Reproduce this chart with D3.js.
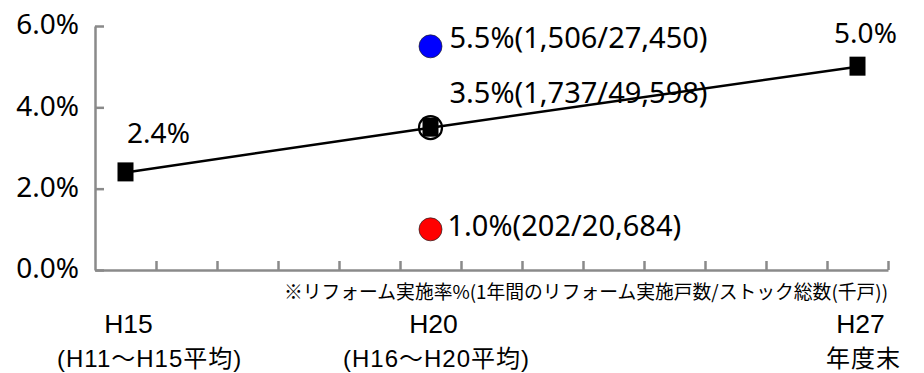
<!DOCTYPE html>
<html>
<head>
<meta charset="utf-8">
<script src="https://cdn.jsdelivr.net/npm/d3@7"></script>
<style>
  html, body { margin: 0; padding: 0; background: #fff; }
  svg { display: block; font-family: "Noto Sans", "Noto Sans CJK JP", sans-serif; }
</style>
</head>
<body>
<svg id="chart" width="924" height="373"></svg>
<script>
// Fiscal-year categories along the x axis
const categories = ["H15", "H16", "H17", "H18", "H19", "H20", "H21", "H22", "H23", "H24", "H25", "H26", "H27"];
// Reform rate trend (%), only the observed / target years carry a value
const trendRates = [2.4, null, null, null, null, 3.5, null, null, null, null, null, null, 5.0];
// Breakdown for H20: rate (%), reformed dwellings and total stock (thousand units)
const breakdownRates = [5.5, 3.5, 1.0];
const breakdownReformed = [1506, 1737, 202];
const breakdownStock = [27450, 49598, 20684];
const breakdownCategory = "H20";
// Category labels (two lines) shown under the axis
const labelCategories = ["H15", "H20", "H27"];
const labelSecondLines = ["(H11～H15平均)", "(H16～H20平均)", "年度末"];
// Y axis tick values (%)
const yTicks = [0, 2, 4, 6];
const noteText = "※リフォーム実施率%(1年間のリフォーム実施戸数/ストック総数(千戸))";

const breakdownFills = ["#0000ff", "#ffffff", "#ff0000"];

const svg = d3.select("#chart");
const plotLeft = 95, plotRight = 888, plotTop = 26, plotBottom = 270;

const x = d3.scaleBand().domain(categories).range([plotLeft, plotRight]).padding(0);
const y = d3.scaleLinear().domain([0, 6]).range([plotBottom, plotTop]);
const cx = c => x(c) + x.bandwidth() / 2;

const axisColor = "#8a8a8a";

// Y axis with inward ticks
const yAxis = svg.append("g")
  .attr("transform", `translate(${plotLeft},0)`)
  .call(d3.axisLeft(y).tickValues(yTicks).tickFormat(d => d3.format(".1f")(d) + "%")
    .tickSizeInner(-9).tickSizeOuter(0).tickPadding(16));
yAxis.select(".domain").attr("stroke", axisColor).attr("stroke-width", 2.5);
yAxis.selectAll(".tick line").attr("stroke", axisColor).attr("stroke-width", 2.5);
yAxis.selectAll(".tick text").attr("fill", "#000").attr("font-size", 28)
  .attr("font-family", "Noto Sans").attr("dy", "0.28em");

// X axis with tick marks at category boundaries
const xb = d3.scaleLinear().domain([0, categories.length]).range([plotLeft, plotRight]);
const xAxis = svg.append("g")
  .attr("transform", `translate(0,${plotBottom})`)
  .call(d3.axisBottom(xb).tickValues(d3.range(1, categories.length + 1))
    .tickFormat("").tickSizeInner(-9).tickSizeOuter(0));
xAxis.select(".domain").attr("stroke", axisColor).attr("stroke-width", 2.5);
xAxis.selectAll(".tick line").attr("stroke", axisColor).attr("stroke-width", 2.5);

// Footnote
svg.append("text")
  .attr("x", plotRight).attr("y", 299)
  .attr("text-anchor", "end")
  .attr("font-family", "Noto Sans CJK JP")
  .attr("font-size", 18.8)
  .text(noteText);

// Category labels, two lines each
const labelFont = "'Liberation Sans', 'Noto Sans CJK JP', sans-serif";
labelCategories.forEach((c, i) => {
  svg.append("text")
    .attr("x", cx(c) + 3).attr("y", 333)
    .attr("text-anchor", "middle")
    .attr("font-family", labelFont)
    .attr("font-size", 26.5)
    .text(c);
  const t2 = svg.append("text")
    .attr("x", cx(c) + 6).attr("y", 367)
    .attr("text-anchor", "middle")
    .attr("font-family", labelFont)
    .attr("font-size", 24)
    .attr("letter-spacing", 1)
    .text(labelSecondLines[i]);
  // keep the second line inside the left margin
  const w = t2.node().getComputedTextLength();
  const leftEdge = cx(c) + 6 - w / 2;
  if (leftEdge < 57) t2.attr("x", cx(c) + 6 + (57 - leftEdge));
});

// Trend points
const trend = categories.map((c, i) => ({ c, v: trendRates[i] })).filter(d => d.v !== null);

// Breakdown circles at H20 (drawn beneath the trend markers)
const bx = cx(breakdownCategory);
breakdownRates.forEach((r, i) => {
  const open = breakdownFills[i] === "#ffffff";
  svg.append("circle")
    .attr("cx", bx).attr("cy", y(r))
    .attr("r", 11.5)
    .attr("fill", breakdownFills[i])
    .attr("stroke", open ? "#000" : "#222")
    .attr("stroke-width", open ? 2.2 : 0.7);
});

// Breakdown labels
const fmt = d3.format(",");
const labelDy = [2, -25, 7];
breakdownRates.forEach((r, i) => {
  svg.append("text")
    .attr("x", bx + (i === 2 ? 17 : 19))
    .attr("y", y(r) + labelDy[i])
    .attr("font-size", 29)
    .text(`${d3.format(".1f")(r)}%(${fmt(breakdownReformed[i])}/${fmt(breakdownStock[i])})`);
});

svg.append("path")
  .datum(trend)
  .attr("fill", "none")
  .attr("stroke", "#000")
  .attr("stroke-width", 2.5)
  .attr("d", d3.line().x(d => cx(d.c)).y(d => y(d.v)));

svg.selectAll("rect.marker")
  .data(trend)
  .join("rect")
  .attr("class", "marker")
  .attr("x", d => cx(d.c) - 8)
  .attr("y", d => y(d.v) - 10)
  .attr("width", 16)
  .attr("height", 19)
  .attr("fill", "#000");

// Value labels for the first and last trend points
const firstPt = trend[0], lastPt = trend[trend.length - 1];
svg.append("text")
  .attr("x", cx(firstPt.c) + 33).attr("y", y(firstPt.v) - 29)
  .attr("text-anchor", "middle").attr("font-size", 28)
  .text(d3.format(".1f")(firstPt.v) + "%");
svg.append("text")
  .attr("x", cx(lastPt.c) + 8).attr("y", y(lastPt.v) - 24)
  .attr("text-anchor", "middle").attr("font-size", 28)
  .text(d3.format(".1f")(lastPt.v) + "%");
</script>
</body>
</html>
